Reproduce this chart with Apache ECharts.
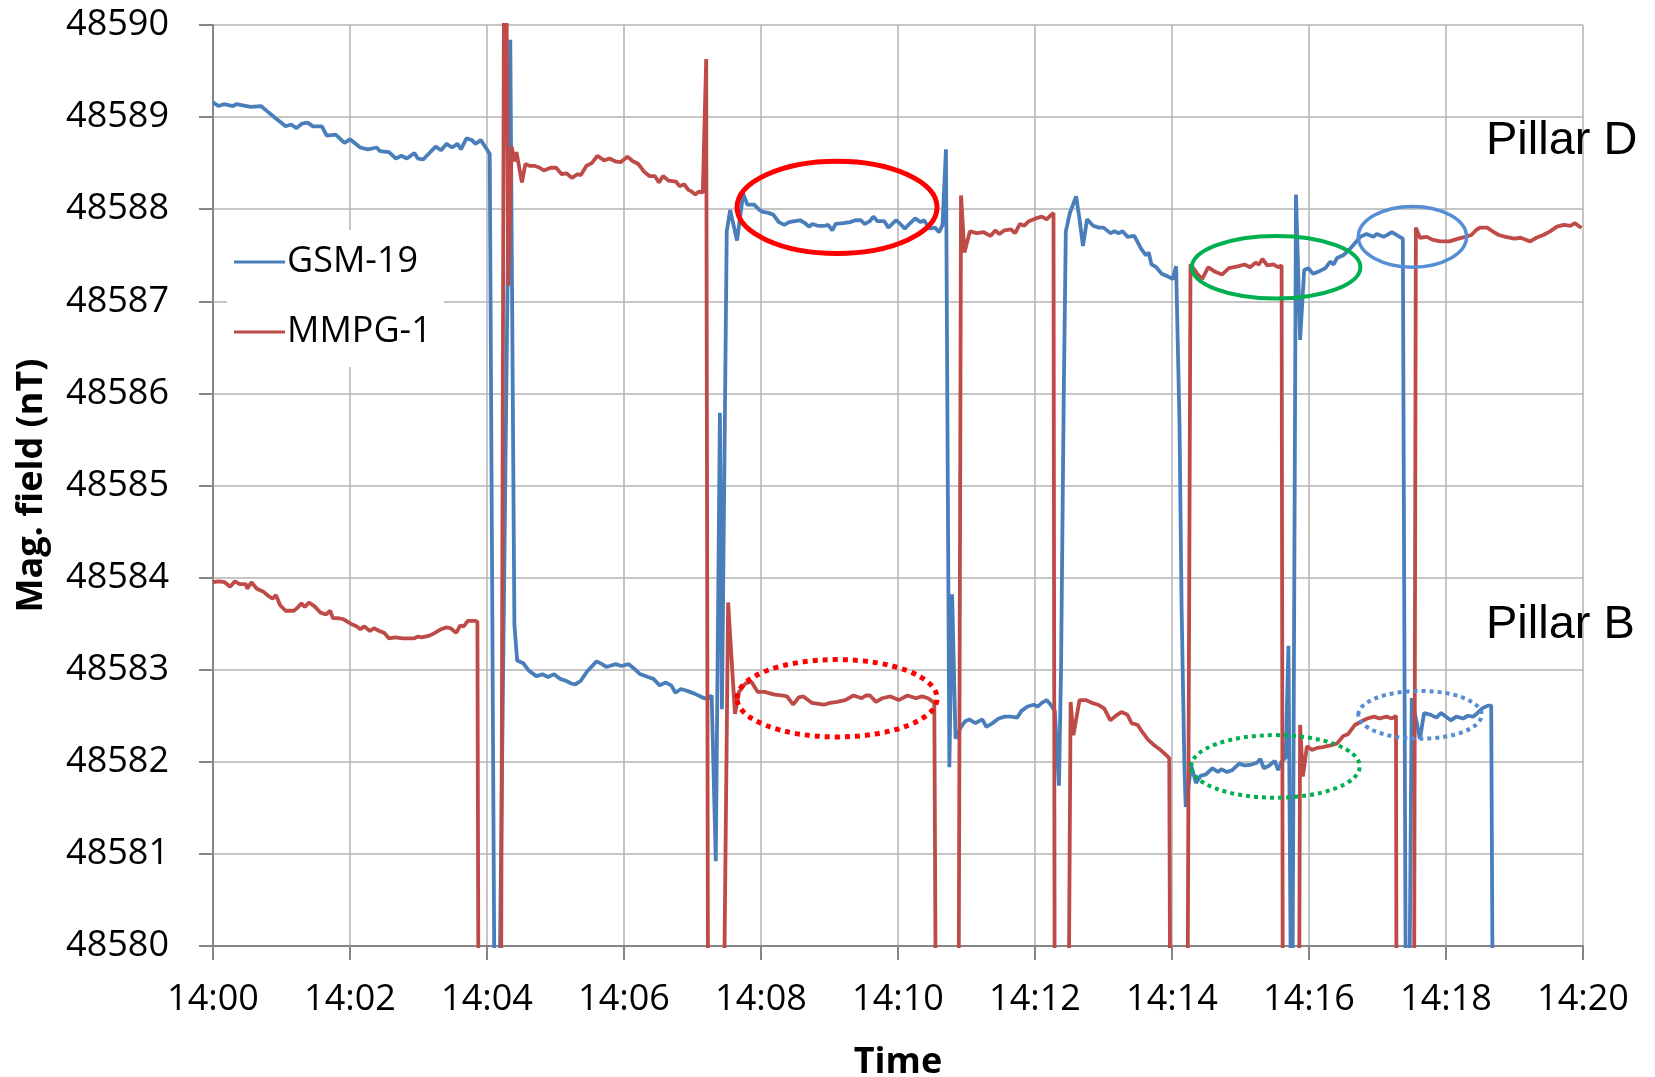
<!DOCTYPE html>
<html>
<head>
<meta charset="utf-8">
<script src="https://cdn.jsdelivr.net/npm/echarts/dist/echarts.min.js"></script>
<style>
  html, body { margin: 0; padding: 0; background: #fff; }
  #chart { width: 1655px; height: 1077px; }
</style>
</head>
<body>
<div id="chart"></div>
<script>
// x in minutes after 14:00, y in nT
var timeLabels = ['14:00', '14:02', '14:04', '14:06', '14:08', '14:10', '14:12', '14:14', '14:16', '14:18', '14:20'];

var gsmTime = [
  0.00, 0.08, 0.16, 0.29, 0.34, 0.55, 0.70, 0.78, 0.91, 1.06, 1.14, 1.22, 1.30, 1.38, 1.46, 1.59, 1.66, 1.79, 1.92, 2.00,
  2.15, 2.26, 2.39, 2.44, 2.57, 2.67, 2.75, 2.83, 2.94, 2.99, 3.07, 3.12, 3.25, 3.33, 3.41, 3.49, 3.57, 3.62, 3.70, 3.78, 3.83, 3.91, 3.98, 4.04,
  4.12, 4.16, 4.34, 4.40, 4.44, 4.53, 4.61, 4.72, 4.81, 4.89, 4.98, 5.07, 5.15, 5.23, 5.29, 5.37, 5.46, 5.60, 5.68, 5.74, 5.79, 5.88, 5.96,
  6.07, 6.15, 6.24, 6.35, 6.43, 6.52, 6.61, 6.69, 6.75, 6.83, 6.92, 7.03, 7.14, 7.22, 7.28, 7.34, 7.40, 7.43, 7.50, 7.55, 7.65, 7.74,
  7.80, 7.90, 7.98, 8.03, 8.11, 8.18, 8.26, 8.34, 8.41, 8.49, 8.57, 8.64, 8.70, 8.75, 8.83, 8.93, 8.98, 9.04, 9.09, 9.20,
  9.30, 9.38, 9.46, 9.51, 9.59, 9.64, 9.70, 9.80, 9.86, 9.97, 10.02, 10.10, 10.18, 10.25, 10.33, 10.38, 10.46, 10.54, 10.60, 10.65,
  10.70, 10.75, 10.79, 10.84, 10.92, 10.98, 11.04, 11.13, 11.23, 11.29, 11.38, 11.47, 11.56, 11.65, 11.74, 11.80, 11.89, 11.98, 12.04, 12.10,
  12.17, 12.23, 12.29, 12.35, 12.38, 12.42,
  12.45, 12.51, 12.60, 12.65, 12.70, 12.76, 12.85, 12.93, 13.00, 13.10, 13.16, 13.22, 13.28, 13.35, 13.45, 13.55, 13.62, 13.66, 13.70, 13.77,
  13.85, 13.94, 14.01, 14.06, 14.11, 14.14, 14.18, 14.20,
  14.28, 14.35, 14.42, 14.49, 14.59, 14.67, 14.72, 14.80, 14.88, 14.98, 15.06, 15.16, 15.24, 15.29, 15.34, 15.42, 15.50, 15.55, 15.60, 15.66,
  15.70, 15.75, 15.77, 15.81, 15.87, 15.93, 15.99,
  16.06, 16.16, 16.24, 16.31, 16.36, 16.41, 16.50, 16.60, 16.67, 16.75, 16.84, 16.94, 16.99, 17.09, 17.21, 17.30, 17.37, 17.42, 17.45, 17.50,
  17.62, 17.68, 17.78, 17.86, 17.93, 18.00, 18.07, 18.15, 18.25, 18.32, 18.40, 18.46, 18.53, 18.61, 18.66, 18.69
];
var gsmField = [
  48589.16, 48589.12, 48589.14, 48589.12, 48589.14, 48589.11, 48589.12, 48589.07, 48588.99, 48588.90, 48588.92, 48588.88, 48588.93, 48588.94, 48588.90, 48588.90, 48588.80, 48588.81, 48588.72, 48588.76,
  48588.67, 48588.65, 48588.67, 48588.63, 48588.62, 48588.55, 48588.58, 48588.55, 48588.61, 48588.55, 48588.54, 48588.58, 48588.68, 48588.64, 48588.71, 48588.67, 48588.71, 48588.65, 48588.77, 48588.75, 48588.71, 48588.75, 48588.67, 48588.60,
  48578.0, 48578.0, 48589.84, 48583.49, 48583.10, 48583.07, 48582.99, 48582.93, 48582.95, 48582.92, 48582.95, 48582.90, 48582.88, 48582.85, 48582.84, 48582.88, 48582.98, 48583.09, 48583.06, 48583.03, 48583.04, 48583.06, 48583.04,
  48583.06, 48583.01, 48582.95, 48582.92, 48582.90, 48582.83, 48582.86, 48582.83, 48582.75, 48582.79, 48582.77, 48582.74, 48582.70, 48582.68, 48582.72, 48580.92, 48585.79, 48582.57, 48587.76, 48587.99, 48587.66, 48588.17,
  48588.05, 48588.05, 48587.99, 48587.97, 48587.96, 48587.94, 48587.86, 48587.83, 48587.86, 48587.87, 48587.88, 48587.85, 48587.81, 48587.84, 48587.82, 48587.82, 48587.83, 48587.77, 48587.84, 48587.85,
  48587.86, 48587.88, 48587.88, 48587.84, 48587.87, 48587.92, 48587.87, 48587.87, 48587.80, 48587.88, 48587.85, 48587.79, 48587.85, 48587.90, 48587.86, 48587.88, 48587.79, 48587.80, 48587.75, 48587.83,
  48588.65, 48581.94, 48583.82, 48582.25, 48582.38, 48582.44, 48582.46, 48582.42, 48582.46, 48582.38, 48582.42, 48582.47, 48582.49, 48582.49, 48582.48, 48582.55, 48582.60, 48582.62, 48582.60, 48582.64,
  48582.67, 48582.62, 48582.55, 48581.74, 48583.00, 48586.00,
  48587.76, 48587.96, 48588.14, 48587.89, 48587.60, 48587.89, 48587.82, 48587.80, 48587.80, 48587.74, 48587.76, 48587.74, 48587.76, 48587.70, 48587.71, 48587.57, 48587.50, 48587.53, 48587.40, 48587.37,
  48587.30, 48587.27, 48587.24, 48587.38, 48585.66, 48583.68, 48582.00, 48581.51,
  48581.96, 48581.77, 48581.85, 48581.86, 48581.93, 48581.89, 48581.92, 48581.89, 48581.91, 48581.98, 48581.96, 48581.97, 48581.99, 48582.03, 48581.93, 48581.96, 48582.01, 48581.91, 48582.00, 48582.05,
  48583.26, 48578.0, 48578.0, 48588.16, 48586.58, 48587.34, 48587.36,
  48587.30, 48587.33, 48587.36, 48587.43, 48587.40, 48587.47, 48587.50, 48587.57, 48587.63, 48587.70, 48587.73, 48587.70, 48587.73, 48587.70, 48587.75, 48587.71, 48587.68, 48578.0, 48578.0, 48582.69,
  48582.25, 48582.53, 48582.51, 48582.48, 48582.53, 48582.49, 48582.45, 48582.49, 48582.47, 48582.50, 48582.49, 48582.53, 48582.58, 48582.61, 48582.61, 48578.0
];

var mmpgTime = [
  0.00, 0.09, 0.17, 0.25, 0.32, 0.39, 0.48, 0.50, 0.56, 0.64, 0.73, 0.81, 0.87, 0.92, 0.98, 1.06, 1.18, 1.23, 1.29, 1.34,
  1.40, 1.48, 1.57, 1.65, 1.71, 1.75, 1.82, 1.90, 2.01, 2.10,
  2.15, 2.21, 2.29, 2.35, 2.43, 2.50, 2.57, 2.66, 2.77, 2.94, 2.99, 3.05, 3.16, 3.24, 3.33, 3.41, 3.47, 3.55, 3.61, 3.66,
  3.72, 3.83, 3.86,
  3.88, 4.20, 4.25, 4.28, 4.31, 4.36, 4.40, 4.43, 4.51, 4.56, 4.63, 4.70, 4.77, 4.83, 4.93, 5.01, 5.09, 5.16, 5.24, 5.32,
  5.37, 5.45, 5.53, 5.61, 5.71, 5.79, 5.87, 5.95, 6.05, 6.13,
  6.21, 6.29, 6.37, 6.45, 6.51, 6.57, 6.65, 6.76, 6.81, 6.88, 6.94, 6.99, 7.04, 7.09, 7.15, 7.17, 7.20, 7.23, 7.44, 7.52,
  7.62, 7.68, 7.77, 7.86, 7.95, 8.05, 8.20, 8.30, 8.38, 8.47,
  8.55, 8.62, 8.74, 8.92, 9.01, 9.11, 9.23, 9.35, 9.47, 9.53, 9.59, 9.68, 9.77, 9.89, 10.01, 10.14, 10.26, 10.35, 10.44, 10.53,
  10.56, 10.88, 10.92, 10.97, 11.05, 11.15, 11.25, 11.35, 11.42, 11.48,
  11.55, 11.65, 11.71, 11.78, 11.84, 11.91, 12.01, 12.10, 12.17, 12.24, 12.27, 12.29, 12.48, 12.52, 12.56, 12.65, 12.74, 12.83, 12.92, 13.01,
  13.10, 13.20, 13.26, 13.35, 13.41, 13.50, 13.56, 13.65, 13.74, 13.83, 13.92, 13.96, 13.98,
  14.22, 14.27, 14.37, 14.44, 14.53, 14.63, 14.73, 14.83, 14.96, 15.06, 15.14, 15.22, 15.27, 15.32, 15.39, 15.48, 15.55, 15.60, 15.62, 15.85,
  15.87, 15.91, 15.97, 16.04, 16.12, 16.20, 16.33, 16.41, 16.50, 16.57,
  16.67, 16.77, 16.85, 16.95, 17.03, 17.13, 17.21, 17.27, 17.28, 17.53, 17.56, 17.62, 17.72, 17.80, 17.91, 18.05, 18.18, 18.28, 18.37, 18.45,
  18.50, 18.60, 18.70, 18.77, 18.87, 19.00, 19.09, 19.23, 19.32, 19.42, 19.52, 19.62, 19.72, 19.82, 19.88, 19.95, 19.98
];
var mmpgField = [
  48583.95, 48583.96, 48583.95, 48583.90, 48583.96, 48583.93, 48583.93, 48583.88, 48583.95, 48583.88, 48583.85, 48583.80, 48583.77, 48583.81, 48583.70, 48583.64, 48583.64, 48583.67, 48583.72, 48583.68,
  48583.73, 48583.69, 48583.62, 48583.60, 48583.64, 48583.56, 48583.56, 48583.55, 48583.50, 48583.47,
  48583.44, 48583.47, 48583.42, 48583.45, 48583.42, 48583.40, 48583.34, 48583.35, 48583.34, 48583.34, 48583.36, 48583.35, 48583.37, 48583.40, 48583.44, 48583.46, 48583.45, 48583.40, 48583.48, 48583.47,
  48583.53, 48583.53, 48583.52,
  48578.0, 48578.0, 48591.0, 48591.0, 48587.17, 48588.68, 48588.52, 48588.62, 48588.29, 48588.49, 48588.47, 48588.47, 48588.45, 48588.42, 48588.45, 48588.45, 48588.38, 48588.39, 48588.34, 48588.38,
  48588.37, 48588.47, 48588.50, 48588.58, 48588.53, 48588.55, 48588.52, 48588.51, 48588.57, 48588.52,
  48588.49, 48588.41, 48588.36, 48588.36, 48588.29, 48588.36, 48588.31, 48588.30, 48588.25, 48588.27, 48588.21, 48588.19, 48588.16, 48588.19, 48588.18, 48588.19, 48589.63, 48578.0, 48578.0, 48583.73,
  48582.52, 48582.76, 48582.85, 48582.87, 48582.76, 48582.76, 48582.73, 48582.72, 48582.71, 48582.62,
  48582.70, 48582.71, 48582.64, 48582.62, 48582.64, 48582.65, 48582.67, 48582.72, 48582.69, 48582.72, 48582.72, 48582.65, 48582.69, 48582.71, 48582.67, 48582.72, 48582.69, 48582.71, 48582.69, 48582.64,
  48578.0, 48578.0, 48588.15, 48587.53, 48587.76, 48587.74, 48587.75, 48587.71, 48587.77, 48587.73,
  48587.77, 48587.78, 48587.74, 48587.84, 48587.82, 48587.87, 48587.90, 48587.92, 48587.89, 48587.94, 48587.96, 48578.0, 48578.0, 48582.65, 48582.29, 48582.67, 48582.67, 48582.64, 48582.62, 48582.58,
  48582.45, 48582.51, 48582.54, 48582.51, 48582.42, 48582.40, 48582.33, 48582.24, 48582.18, 48582.13, 48582.07, 48582.04, 48578.0,
  48578.0, 48587.40, 48587.30, 48587.24, 48587.37, 48587.32, 48587.29, 48587.36, 48587.38, 48587.40, 48587.37, 48587.42, 48587.40, 48587.46, 48587.39, 48587.40, 48587.37, 48587.39, 48578.0, 48578.0,
  48582.40, 48581.84, 48582.17, 48582.13, 48582.15, 48582.16, 48582.18, 48582.20, 48582.28, 48582.30,
  48582.40, 48582.44, 48582.47, 48582.49, 48582.47, 48582.49, 48582.47, 48582.50, 48578.0, 48578.0, 48587.80, 48587.69, 48587.70, 48587.67, 48587.65, 48587.65, 48587.68, 48587.70, 48587.72, 48587.78,
  48587.80, 48587.80, 48587.75, 48587.72, 48587.70, 48587.68, 48587.69, 48587.65, 48587.69, 48587.72, 48587.76, 48587.81, 48587.83, 48587.82, 48587.85, 48587.81, 48587.80
];

var FONT = "'Open Sans', 'Liberation Sans', sans-serif";
var blue = '#4a7ebb';
var red = '#be4b48';

function pairs(xs, ys) {
  return xs.map(function(x, i) { return [x, ys[i]]; });
}

var chart = echarts.init(document.getElementById('chart'), null, { renderer: 'canvas' });
chart.setOption({
  animation: false,
  backgroundColor: '#fff',
  grid: { left: 213, right: 72, top: 25, bottom: 131, containLabel: false, outerBoundsMode: 'none' },
  legend: {
    orient: 'vertical',
    left: 227,
    top: 230,
    backgroundColor: '#fff',
    padding: [12, 12, 15, 7],
    itemWidth: 51,
    itemHeight: 3,
    itemGap: 30,
    icon: 'rect',
    textStyle: { fontSize: 36, fontFamily: FONT, color: '#000', lineHeight: 40, padding: [0, 0, 0, -3] },
    data: ['GSM-19', 'MMPG-1']
  },
  xAxis: {
    type: 'value',
    min: 0,
    max: 20,
    interval: 2,
    name: 'Time',
    nameLocation: 'middle',
    nameGap: 99,
    nameTextStyle: { fontSize: 36, fontFamily: FONT, fontWeight: 'bold', color: '#000' },
    axisLine: { show: true, onZero: false, lineStyle: { color: '#868686', width: 2 } },
    axisTick: { show: true, length: 14, lineStyle: { color: '#868686', width: 2 } },
    axisLabel: {
      margin: 36, fontSize: 36, fontFamily: FONT, color: '#000',
      formatter: function(v) { return timeLabels[Math.round(v / 2)]; }
    },
    splitLine: { show: true, lineStyle: { color: '#b3b3b3', width: 1.5 } }
  },
  yAxis: {
    type: 'value',
    min: 48580,
    max: 48590,
    interval: 1,
    name: 'Mag. field (nT)',
    nameLocation: 'middle',
    nameRotate: 90,
    nameGap: 163,
    nameTextStyle: { fontSize: 36, fontFamily: FONT, fontWeight: 'bold', color: '#000' },
    axisLine: { show: true, lineStyle: { color: '#868686', width: 2 } },
    axisTick: { show: true, length: 14, lineStyle: { color: '#868686', width: 2 } },
    axisLabel: {
      margin: 44, fontSize: 36, fontFamily: FONT, color: '#000',
      formatter: function(v) { return String(v); }
    },
    splitLine: { show: true, lineStyle: { color: '#b3b3b3', width: 1.5 } }
  },
  series: [
    {
      name: 'GSM-19', type: 'line', data: pairs(gsmTime, gsmField),
      showSymbol: false, symbol: 'none', clip: true,
      lineStyle: { color: blue, width: 3.8 }, itemStyle: { color: blue }
    },
    {
      name: 'MMPG-1', type: 'line', data: pairs(mmpgTime, mmpgField),
      showSymbol: false, symbol: 'none', clip: true,
      lineStyle: { color: red, width: 3.8 }, itemStyle: { color: red }
    }
  ]
});

// annotation ellipses, placed in data coordinates: centre, half width (min), half height (nT)
function ellipse(t, v, dt, dv, color, width, dash) {
  var c = chart.convertToPixel({ gridIndex: 0 }, [t, v]);
  var e = chart.convertToPixel({ gridIndex: 0 }, [t + dt, v - dv]);
  return {
    type: 'ellipse', silent: true, z: 100,
    shape: { cx: c[0], cy: c[1], rx: e[0] - c[0], ry: e[1] - c[1] },
    style: { fill: null, stroke: color, lineWidth: width, lineDash: dash || null }
  };
}

chart.setOption({
  graphic: [
    ellipse(9.11, 48588.02, 1.46, 0.50, '#ff0000', 5),
    ellipse(9.11, 48582.69, 1.46, 0.42, '#ff0000', 5, [5, 5]),
    ellipse(15.52, 48587.37, 1.23, 0.34, '#00b050', 4),
    ellipse(15.51, 48581.95, 1.23, 0.34, '#00b050', 4, [4, 4]),
    ellipse(17.51, 48587.70, 0.79, 0.33, '#558ed5', 3.5),
    ellipse(17.62, 48582.51, 0.90, 0.26, '#558ed5', 4, [4, 4]),
    {
      type: 'text', x: 1486, y: 141, z: 100, silent: true,
      style: { text: 'Pillar D', fontSize: 47, fontFamily: "'Liberation Sans', Arial, sans-serif", fill: '#000', verticalAlign: 'middle' }
    },
    {
      type: 'text', x: 1486, y: 625, z: 100, silent: true,
      style: { text: 'Pillar B', fontSize: 47, fontFamily: "'Liberation Sans', Arial, sans-serif", fill: '#000', verticalAlign: 'middle' }
    }
  ]
});
</script>
</body>
</html>
